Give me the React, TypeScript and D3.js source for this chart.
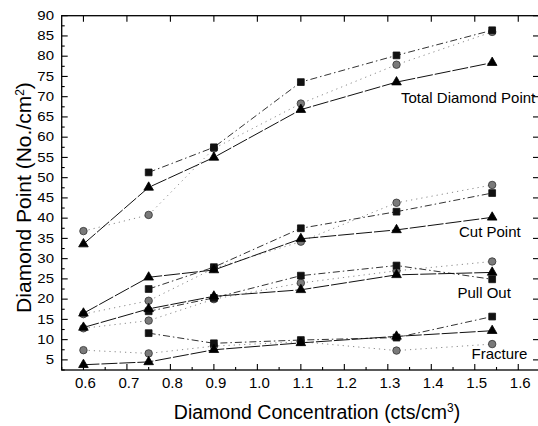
import React from 'react';
import * as d3 from 'd3';

const xValues = [0.6, 0.75, 0.9, 1.1, 1.32, 1.54];

const totalSquare = [null, 51.3, 57.5, 73.6, 80.2, 86.4];
const totalCircle = [36.8, 40.8, 57.2, 68.3, 77.9, 86.0];
const totalTriangle = [33.6, 47.6, 55.0, 66.8, 73.6, 78.4];

const cutSquare = [null, 22.5, 27.9, 37.5, 41.6, 46.2];
const cutCircle = [16.3, 19.6, 27.6, 34.2, 43.8, 48.2];
const cutTriangle = [16.5, 25.4, 27.2, 34.9, 37.1, 40.2];

const pullSquare = [null, 17.0, 20.3, 25.8, 28.3, 24.9];
const pullCircle = [12.8, 14.7, 20.0, 24.0, 27.0, 29.3];
const pullTriangle = [13.0, 17.6, 20.7, 22.3, 26.0, 26.6];

const fracSquare = [null, 11.6, 9.1, 9.9, 10.5, 15.7];
const fracCircle = [7.4, 6.6, 8.4, 9.5, 7.3, 8.9];
const fracTriangle = [3.8, 4.5, 7.5, 9.2, 10.8, 12.2];

const groupLabels = ['Total Diamond Point', 'Cut Point', 'Pull Out', 'Fracture'];
const xTickValues = [0.6, 0.7, 0.8, 0.9, 1.0, 1.1, 1.2, 1.3, 1.4, 1.5, 1.6];
const yTickValues = [5, 10, 15, 20, 25, 30, 35, 40, 45, 50, 55, 60, 65, 70, 75, 80, 85, 90];

const W = 538;
const H = 426;
const FONT = '"Liberation Sans", Arial, Helvetica, sans-serif';

export default function App() {
  const x = d3.scaleLinear().domain([0.55, 1.65]).range([61.7, 540]);
  const y = d3.scaleLinear().domain([2.5, 90]).range([370, 15.7]);
  const left = x.range()[0];
  const right = x.range()[1];
  const top = y.range()[1];
  const bottom = y.range()[0];

  const line = d3
    .line<[number, number | null]>()
    .defined((d) => d[1] != null)
    .x((d) => x(d[0]))
    .y((d) => y(d[1] as number));

  const pts = (vals: (number | null)[]) => xValues.map((xv, i) => [xv, vals[i]] as [number, number | null]);

  const triPath = d3.symbol(d3.symbolTriangle, 40)() as string;
  const sqPath = d3.symbol(d3.symbolSquare, 46)() as string;
  const circPath = d3.symbol(d3.symbolCircle, 44)() as string;

  const groups = [
    { sq: totalSquare, ci: totalCircle, tr: totalTriangle },
    { sq: cutSquare, ci: cutCircle, tr: cutTriangle },
    { sq: pullSquare, ci: pullCircle, tr: pullTriangle },
    { sq: fracSquare, ci: fracCircle, tr: fracTriangle },
  ];

  const labelPos = [
    { x: 401, y: 103 },
    { x: 459, y: 236.5 },
    { x: 457.5, y: 297.5 },
    { x: 471.5, y: 358.5 },
  ];

  const xMinor = d3.range(0.55, 1.651, 0.05);
  const yMinor = d3.range(2.5, 90.01, 2.5);

  const markers = (vals: (number | null)[], path: string, fill: string, stroke: string, key: string) =>
    xValues.map((xv, i) =>
      vals[i] == null ? null : (
        <path
          key={key + i}
          d={path}
          transform={`translate(${x(xv)},${y(vals[i] as number)})`}
          fill={fill}
          stroke={stroke}
          strokeWidth={0.8}
        />
      )
    );

  return (
    <svg width={W} height={H} style={{ position: 'absolute', left: 0, top: 0, background: '#fff' }}>
      <rect x={0} y={0} width={W} height={H} fill="#fff" />
      {/* frame */}
      <rect x={left} y={top} width={right - left} height={bottom - top} fill="none" stroke="#000" strokeWidth={1.3} />

      {/* bottom ticks */}
      {xMinor.map((v, i) => {
        const major = Math.abs(Math.round(v * 10) - v * 10) < 1e-6;
        return (
          <line key={'bx' + i} x1={x(v)} x2={x(v)} y1={bottom} y2={bottom - (major ? 6 : 3)} stroke="#000" strokeWidth={1.1} />
        );
      })}
      {/* top ticks */}
      {xTickValues.map((v, i) => (
        <line key={'tx' + i} x1={x(v)} x2={x(v)} y1={top} y2={top + 6} stroke="#000" strokeWidth={1.1} />
      ))}
      {/* left ticks */}
      {yMinor.map((v, i) => {
        const major = Math.abs(v / 5 - Math.round(v / 5)) < 1e-6;
        return (
          <line key={'ly' + i} x1={left} x2={left + (major ? 6 : 3)} y1={y(v)} y2={y(v)} stroke="#000" strokeWidth={1.1} />
        );
      })}
      {/* right ticks */}
      {yTickValues.map((v, i) => (
        <line key={'ry' + i} x1={right} x2={right - 7} y1={y(v)} y2={y(v)} stroke="#000" strokeWidth={1.1} />
      ))}

      {/* x tick labels */}
      {xTickValues.map((v, i) => (
        <text key={'xl' + i} x={x(v) + 2} y={388} textAnchor="middle" fontFamily={FONT} fontSize={15} fill="#000">
          {d3.format('.1f')(v)}
        </text>
      ))}
      {/* y tick labels */}
      {yTickValues.map((v, i) => (
        <text
          key={'yl' + i}
          transform={`translate(54,${y(v) + 4.3}) scale(1,0.82)`}
          textAnchor="end"
          fontFamily={FONT}
          fontSize={15}
          fill="#000"
        >
          {v}
        </text>
      ))}

      {/* series lines */}
      {groups.map((g, gi) => (
        <g key={'lines' + gi}>
          <path d={line(pts(g.ci)) as string} fill="none" stroke="#8a8a8a" strokeWidth={1} strokeDasharray="1.2,4" />
          <path d={line(pts(g.sq)) as string} fill="none" stroke="#333" strokeWidth={1} strokeDasharray="7,3,1.5,3" />
          <path d={line(pts(g.tr)) as string} fill="none" stroke="#111" strokeWidth={1} strokeDasharray="16,2" />
        </g>
      ))}

      {/* markers */}
      {groups.map((g, gi) => (
        <g key={'m' + gi}>
          {markers(g.ci, circPath, '#7a7a7a', '#333', 'c' + gi)}
          {markers(g.sq, sqPath, '#111', '#111', 's' + gi)}
          {markers(g.tr, triPath, '#000', '#000', 't' + gi)}
        </g>
      ))}

      {/* group labels */}
      {groupLabels.map((t, i) => (
        <text key={'gl' + i} x={labelPos[i].x} y={labelPos[i].y} fontFamily={FONT} fontSize={15} fill="#000">
          {t}
        </text>
      ))}

      {/* axis titles */}
      <text x={317} y={419} textAnchor="middle" fontFamily={FONT} fontSize={19.5} fill="#000">
        Diamond Concentration (cts/cm
        <tspan dy={-7} fontSize={12}>3</tspan>
        <tspan dy={7}>)</tspan>
      </text>
      <text
        transform={`translate(31,${197.5}) rotate(-90)`}
        textAnchor="middle"
        fontFamily={FONT}
        fontSize={21}
        fill="#000"
      >
        Diamond Point (No./cm
        <tspan dy={-7} fontSize={12}>2</tspan>
        <tspan dy={7}>)</tspan>
      </text>
    </svg>
  );
}
